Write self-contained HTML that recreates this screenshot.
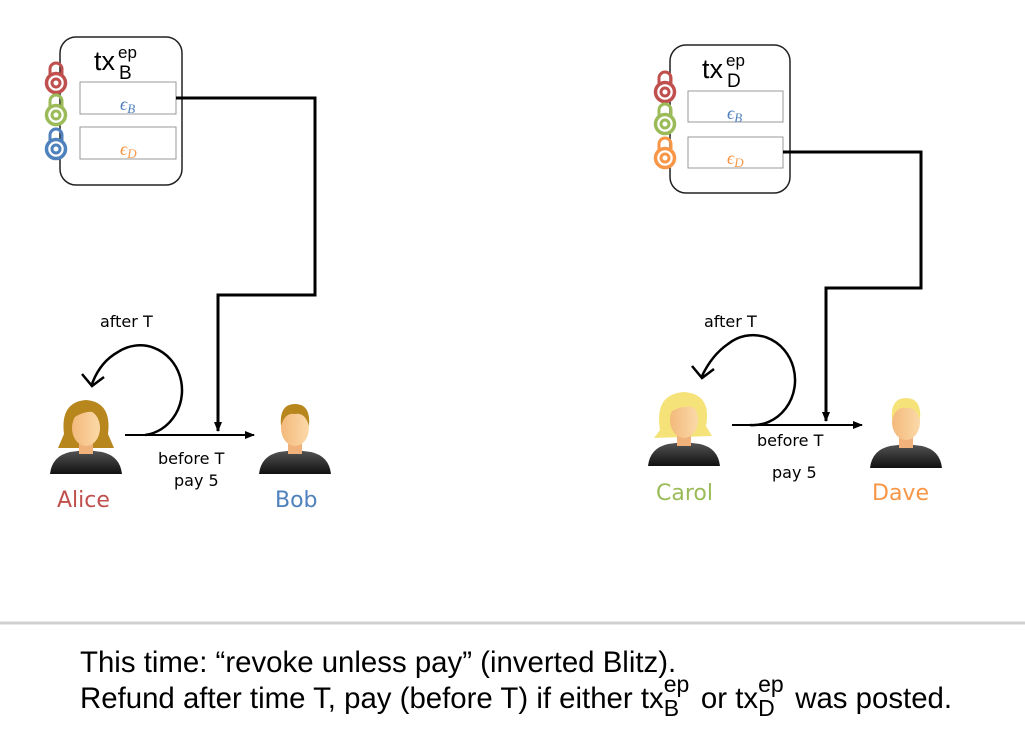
<!DOCTYPE html>
<html><head><meta charset="utf-8"><style>
body{margin:0;background:#fff;position:relative;width:1025px;height:732px;overflow:hidden;}
svg{display:block;position:absolute;left:0;top:0;}
.t{font-family:"DejaVu Sans","Liberation Sans",sans-serif;}
.a{font-family:"Liberation Sans",sans-serif;}
.bt{position:absolute;left:80px;font-family:"Liberation Sans",sans-serif;font-size:29.4px;white-space:nowrap;color:#000;}
.st{display:inline-block;position:relative;width:29px;height:20px;vertical-align:baseline;}
.st i{font-style:normal;position:absolute;left:0;font-size:23px;line-height:1;}
</style></head><body>
<svg width="1025" height="732" viewBox="0 0 1025 732" xmlns="http://www.w3.org/2000/svg">
<defs>
<marker id="ah" markerWidth="10" markerHeight="10" refX="9" refY="5" orient="auto" markerUnits="userSpaceOnUse"><path d="M0,1 L10,5 L0,9 z" fill="#000"/></marker>
<g id="lock"><path d="M-6,-4 v-6 a6,6 0 0 1 12,0 v6" fill="none" stroke-width="3"/><circle cx="0" cy="4" r="9.5" fill="#fff" stroke-width="3.5"/><circle cx="0" cy="4" r="4" fill="none" stroke-width="3"/></g>
<linearGradient id="sk" x1="0" x2="1"><stop offset="0" stop-color="#f3b97c"/><stop offset="1" stop-color="#fbd9a8"/></linearGradient>
<linearGradient id="bd" x1="0" y1="0" x2="0" y2="1"><stop offset="0" stop-color="#555"/><stop offset="1" stop-color="#111"/></linearGradient>
<g id="man"><path d="M-36,34 q2,-18 20,-22 l16,-2 l16,2 q18,4 20,22 z" fill="url(#bd)"/><rect x="-7" y="2" width="14" height="12" fill="#f0b27a"/><ellipse cx="0" cy="-12" rx="14" ry="18" fill="url(#sk)"/></g>
</defs>

<rect x="60" y="37" width="122" height="148" rx="16" fill="#fff" stroke="#222" stroke-width="1.5"/>
<text x="94" y="70" class="a" font-size="27">tx</text><text x="118" y="58" class="a" font-size="17">ep</text><text x="119" y="79" class="a" font-size="19">B</text>
<rect x="80" y="82" width="96" height="32" fill="#fff" stroke="#999"/>
<rect x="80" y="127" width="96" height="32" fill="#fff" stroke="#999"/>
<text x="120" y="110" font-family="Liberation Serif,serif" font-style="italic" font-size="18" fill="#4f81bd">ϵ<tspan font-size="13" dy="3">B</tspan></text>
<text x="120" y="155" font-family="Liberation Serif,serif" font-style="italic" font-size="18" fill="#f79646">ϵ<tspan font-size="13" dy="3">D</tspan></text>
<use href="#lock" x="56" y="79" stroke="#c0504d"/>
<use href="#lock" x="56" y="111" stroke="#9bbb59"/>
<use href="#lock" x="56" y="145" stroke="#4f81bd"/>
<polyline points="176,98 315,98 315,295 218,295 218,431" fill="none" stroke="#000" stroke-width="3" marker-end="url(#ah)"/>
<line x1="125" y1="435" x2="254" y2="435" stroke="#000" stroke-width="2" marker-end="url(#ah)"/>
<path d="M145,435 A42,45 0 1 0 118,352 Q100,362 92,384" fill="none" stroke="#000" stroke-width="2.5"/>
<path d="M82,374 L92,386 L104,377" fill="none" stroke="#000" stroke-width="2.5"/>
<text x="100" y="327" class="t" font-size="16">after T</text>
<text x="158" y="464" class="t" font-size="16">before T</text>
<text x="174" y="486" class="t" font-size="16">pay 5</text>
<g transform="translate(86,440)"><path d="M-22,-6 q-4,-32 22,-34 q26,2 22,34 l6,14 l-56,0 z" fill="#b7861d"/><use href="#man"/><path d="M-13,-22 q2,-14 16,-14 q12,2 12,14 l-2,-4 q-10,-6 -26,4z" fill="#b7861d"/></g>
<text x="57" y="507" class="t" font-size="22" fill="#c0504d">Alice</text>
<g transform="translate(295,440)"><use href="#man"/><path d="M-14,-14 q-2,-22 14,-22 q16,0 14,22 q-4,-14 -14,-12 q-10,-2 -14,12z" fill="#b7861d"/></g>
<text x="275" y="507" class="t" font-size="22" fill="#4f81bd">Bob</text>

<rect x="670" y="45" width="120" height="148" rx="16" fill="#fff" stroke="#222" stroke-width="1.5"/>
<text x="702" y="78" class="a" font-size="27">tx</text><text x="726" y="66" class="a" font-size="17">ep</text><text x="727" y="87" class="a" font-size="19">D</text>
<rect x="688" y="91" width="95" height="31" fill="#fff" stroke="#999"/>
<rect x="688" y="137" width="95" height="31" fill="#fff" stroke="#999"/>
<text x="727" y="119" font-family="Liberation Serif,serif" font-style="italic" font-size="18" fill="#4f81bd">ϵ<tspan font-size="13" dy="3">B</tspan></text>
<text x="727" y="164" font-family="Liberation Serif,serif" font-style="italic" font-size="18" fill="#f79646">ϵ<tspan font-size="13" dy="3">D</tspan></text>
<use href="#lock" x="665" y="88" stroke="#c0504d"/>
<use href="#lock" x="665" y="120" stroke="#9bbb59"/>
<use href="#lock" x="665" y="154" stroke="#f79646"/>
<polyline points="783,152 921,152 921,288 826,288 826,421" fill="none" stroke="#000" stroke-width="3" marker-end="url(#ah)"/>
<line x1="732" y1="425" x2="862" y2="425" stroke="#000" stroke-width="2" marker-end="url(#ah)"/>
<path d="M750,425 A42,45 0 1 0 728,344 Q712,355 702,376" fill="none" stroke="#000" stroke-width="2.5"/>
<path d="M692,366 L702,378 L714,369" fill="none" stroke="#000" stroke-width="2.5"/>
<text x="704" y="327" class="t" font-size="16">after T</text>
<text x="757" y="446" class="t" font-size="16">before T</text>
<text x="772" y="478" class="t" font-size="16">pay 5</text>
<g transform="translate(684,432)"><path d="M-24,-2 q-6,-36 24,-38 q28,2 22,34 l6,10 l-58,2 z" fill="#f5e37a"/><use href="#man"/><path d="M-14,-20 q2,-16 16,-16 q12,2 12,14 q-10,-8 -28,2z" fill="#f5e37a"/></g>
<text x="656" y="500" class="t" font-size="22" fill="#9bbb59">Carol</text>
<g transform="translate(906,434)"><use href="#man"/><path d="M-14,-14 q-2,-22 14,-22 q16,0 14,22 q-4,-14 -14,-12 q-10,-2 -14,12z" fill="#f5e37a"/></g>
<text x="872" y="500" class="t" font-size="22" fill="#f79646">Dave</text>

<line x1="0" y1="623" x2="1025" y2="623" stroke="#d0d0d0" stroke-width="3"/>
</svg>
<div class="bt" style="top:646px;">This time: “revoke unless pay” (inverted Blitz).</div>
<div class="bt" style="top:682px;">Refund after time T, pay (before T) if either tx<span class="st"><i style="top:-15px">ep</i><i style="top:9px">B</i></span> or tx<span class="st"><i style="top:-15px">ep</i><i style="top:9px">D</i></span> was posted.</div>
</body></html>
